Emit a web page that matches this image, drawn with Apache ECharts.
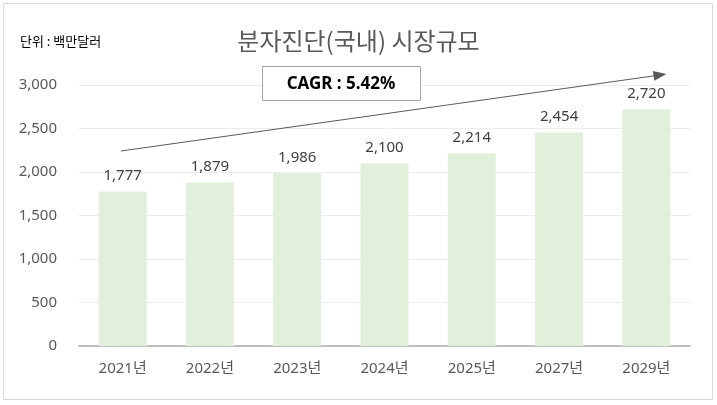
<!DOCTYPE html>
<html><head><meta charset="utf-8">
<script src="https://cdn.jsdelivr.net/npm/echarts@6/dist/echarts.min.js"></script>
<style>html,body{margin:0;padding:0;background:#fff}#c{width:717px;height:405px}</style>
</head><body><div id="c"></div>
<script>
const categories = ['2021년','2022년','2023년','2024년','2025년','2027년','2029년'];
const values = [1777,1879,1986,2100,2214,2454,2720];
const yTicks = [0,500,1000,1500,2000,2500,3000];
const titleText = '분자진단(국내) 시장규모';
const unitText = '단위 : 백만달러';
const cagrText = 'CAGR : 5.42%';

const FONT = '"Noto Sans", "Noto Sans CJK KR", sans-serif';
const chart = echarts.init(document.getElementById('c'));
chart.setOption({
  animation: false,
  textStyle: {fontFamily: FONT},
  title: {text: titleText, left: 'center', top: 24, textStyle: {fontFamily: '"Noto Sans CJK KR"', fontSize: 24, fontWeight: 'normal', color: '#595959'}},
  grid: {left: 79, right: 27, top: 85, bottom: 59},
  xAxis: {type: 'category', data: categories,
    axisLine: {lineStyle: {color: '#bfbfbf', width: 2}}, axisTick: {show: false},
    axisLabel: {color: '#595959', fontSize: 15, margin: 15, fontFamily: FONT}},
  yAxis: {type: 'value', min: yTicks[0], max: yTicks[yTicks.length-1], interval: 500,
    axisLine: {show: false}, axisTick: {show: false},
    splitLine: {lineStyle: {color: '#ececec'}},
    axisLabel: {color: '#595959', fontSize: 15, margin: 22,
      formatter: v => v.toLocaleString('en-US')}},
  series: [{type: 'bar', data: values, barWidth: 48,
    itemStyle: {color: '#e2efda'},
    label: {show: true, position: 'top', distance: 8, color: '#404040', fontSize: 15,
      formatter: p => p.value.toLocaleString('en-US')},
    markLine: {silent: true, symbol: ['none','triangle'], symbolSize: [10, 13],
      label: {show: false},
      lineStyle: {color: '#595959', width: 1, type: 'solid'},
      data: [[{x: 121, y: 151}, {x: 660, y: 75}]]}
  }],
  graphic: [
    {type: 'rect', shape: {x: 3.5, y: 3.5, width: 709, height: 396}, style: {fill: 'none', stroke: '#d9d9d9', lineWidth: 1}, silent: true},
    {type: 'text', left: 20, top: 35, style: {text: unitText, font: '13px "Noto Sans CJK KR"', fill: '#000'}},
    {type: 'rect', shape: {x: 262.5, y: 66.5, width: 158, height: 34}, style: {fill: '#fff', stroke: '#a6a6a6', lineWidth: 1}, z: 10},
    {type: 'text', x: 341, y: 84, z: 11, style: {text: cagrText, font: 'bold 17px "Noto Sans"', fill: '#000', align: 'center', verticalAlign: 'middle'}}
  ]
});
</script></body></html>
